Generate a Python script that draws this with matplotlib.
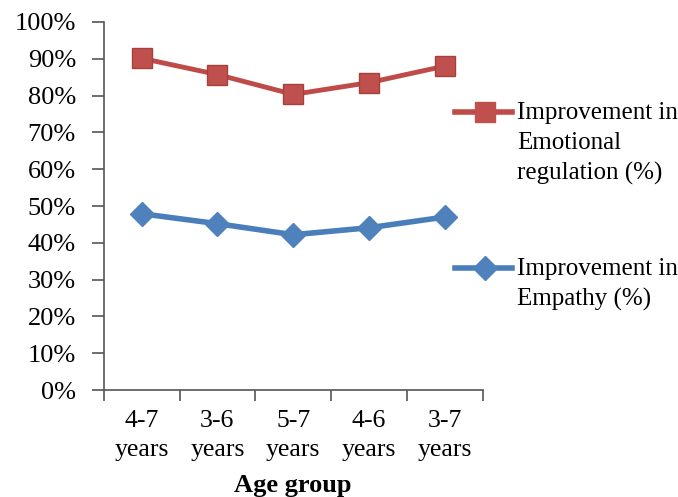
import matplotlib.pyplot as plt
from matplotlib.lines import Line2D
from matplotlib.ticker import FuncFormatter

# improvement scores per age group
age_groups = ['4-7\nyears', '3-6\nyears', '5-7\nyears', '4-6\nyears', '3-7\nyears']
emotional_regulation = [90.1, 85.7, 80.3, 83.5, 88.0]
empathy = [47.9, 45.2, 42.2, 44.1, 47.0]

red_line = '#BE4B48'
red_fill = '#C0504D'
blue_line = '#4A7EBB'
blue_fill = '#4F81BD'

plt.rcParams['font.family'] = ['Liberation Serif', 'DejaVu Serif']

fig = plt.figure(figsize=(6.78, 4.97), dpi=100)
ax = fig.add_axes([0.153, 0.215, 0.559, 0.741])

x = list(range(len(age_groups)))
ax.plot(x, emotional_regulation, color=red_line, lw=3.5, marker='s', ms=15,
        mfc=red_fill, mec='#A5403D', mew=1, zorder=3)
ax.plot(x, empathy, color=blue_line, lw=4, marker='D', ms=12,
        mfc=blue_fill, mec=blue_fill, mew=1, zorder=3)

ax.set_ylim(0, 100)
ax.set_xlim(-0.5, len(age_groups) - 0.5)
ax.set_yticks(range(0, 101, 10))
ax.yaxis.set_major_formatter(FuncFormatter(lambda v, p: f'{int(v)}%'))

# category labels sit between the tick marks
ax.set_xticks([i - 0.5 for i in range(len(age_groups) + 1)])
ax.set_xticklabels([])
ax.set_xticks(x, minor=True)
ax.set_xticklabels(age_groups, minor=True, fontsize=18.5, linespacing=1.45)
ax.tick_params(axis='x', which='minor', length=0, pad=14)
ax.tick_params(axis='x', which='major', length=8, width=1.2, color='#555555')
ax.tick_params(axis='y', length=9, width=1.2, color='#555555', labelsize=19, pad=11)

for side in ['top', 'right']:
    ax.spines[side].set_visible(False)
for side in ['left', 'bottom']:
    ax.spines[side].set_color('#555555')
    ax.spines[side].set_linewidth(1.2)

ax.set_xlabel('Age group', fontsize=19, fontweight='bold', labelpad=9)


# legend entries with the marker level with the first text line
def legend_entry(y, color, fill, marker, ms, label):
    fig.add_artist(Line2D([455 / 678, 512 / 678], [y, y], transform=fig.transFigure,
                          color=color, lw=4))
    fig.add_artist(Line2D([485 / 678], [y], transform=fig.transFigure, marker=marker,
                          ms=ms, mfc=fill, mec=fill, ls='none'))
    fig.text(517 / 678, y + 10 / 497, label, fontsize=18, va='top', ha='left',
             linespacing=1.45)


legend_entry(1 - 112 / 497, red_line, red_fill, 's', 15,
             'Improvement in\nEmotional\nregulation (%)')
legend_entry(1 - 268 / 497, blue_line, blue_fill, 'D', 12,
             'Improvement in\nEmpathy (%)')

fig.savefig('out.png', dpi=100)
